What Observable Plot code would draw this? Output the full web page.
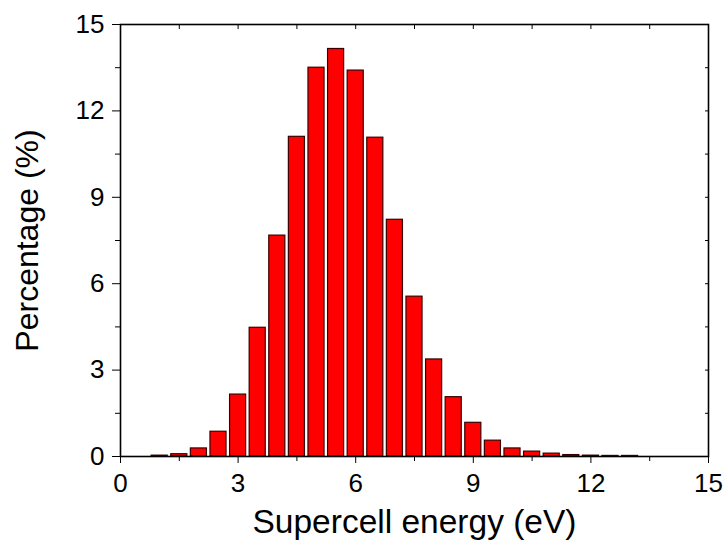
<!DOCTYPE html>
<html>
<head>
<meta charset="utf-8">
<script src="https://cdn.jsdelivr.net/npm/d3@7"></script>
<script src="https://cdn.jsdelivr.net/npm/@observablehq/plot@0.6"></script>
<style>
  html, body { margin: 0; padding: 0; background: #fff; }
  svg { font-family: "Liberation Sans", Arial, sans-serif; }
</style>
</head>
<body>
<div id="chart"></div>
<script>
const energies = [1.0, 1.5, 2.0, 2.5, 3.0, 3.5, 4.0, 4.5, 5.0, 5.5, 6.0, 6.5, 7.0, 7.5, 8.0, 8.5, 9.0, 9.5, 10.0, 10.5, 11.0, 11.5, 12.0, 12.5, 13.0];
const percents = [0.03, 0.08, 0.28, 0.86, 2.15, 4.47, 7.67, 11.1, 13.5, 14.15, 13.4, 11.07, 8.22, 5.55, 3.37, 2.06, 1.17, 0.55, 0.28, 0.17, 0.1, 0.05, 0.03, 0.02, 0.02];
const majorTicks = [0, 3, 6, 9, 12, 15];
const minorTicks = [1.5, 4.5, 7.5, 10.5, 13.5];
const allTicks = [0, 1.5, 3, 4.5, 6, 7.5, 9, 10.5, 12, 13.5, 15];
const binHalfWidth = 0.205;

const data = energies.map((e, i) => ({e, p: percents[i]}));

const chart = Plot.plot({
  width: 726,
  height: 545,
  marginLeft: 120,
  marginRight: 18,
  marginTop: 24,
  marginBottom: 89,
  x: {domain: [0, 15]},
  y: {domain: [0, 15]},
  marks: [
    Plot.rectY(data, {
      x1: d => d.e - binHalfWidth,
      x2: d => d.e + binHalfWidth,
      y: "p",
      fill: "#ff0000",
      stroke: "#3a0000",
      strokeWidth: 1.2
    }),
    Plot.frame({stroke: "black", strokeWidth: 1.6}),
    Plot.axisX({ticks: majorTicks, tickSize: 7, tickPadding: 10, fontSize: 26, color: "black",
      label: "Supercell energy (eV)", labelAnchor: "center", labelArrow: "none", labelOffset: 76}),
    Plot.axisX({ticks: minorTicks, tickSize: 5, tickFormat: () => "", label: null}),
    Plot.axisX({anchor: "top", ticks: allTicks, tickSize: -4, tickFormat: () => "", label: null}),
    Plot.axisY({ticks: majorTicks, tickSize: 8, tickPadding: 8, fontSize: 26, color: "black",
      label: "Percentage (%)", labelAnchor: "center", labelArrow: "none", labelOffset: 105}),
    Plot.axisY({ticks: minorTicks, tickSize: 5, tickFormat: () => "", label: null}),
    Plot.axisY({anchor: "right", ticks: allTicks, tickSize: -4, tickFormat: () => "", label: null})
  ],
  style: {fontFamily: "Liberation Sans, Arial, sans-serif", color: "black", background: "white"}
});
chart.querySelectorAll("[aria-label='x-axis label']").forEach(el => {
  el.setAttribute("font-size", 33.5);
  el.style.fontSize = "33.5px";
});
chart.querySelectorAll("[aria-label='y-axis label']").forEach(el => {
  el.setAttribute("font-size", 32);
  el.style.fontSize = "32px";
});
document.getElementById("chart").append(chart);
</script>
</body>
</html>
